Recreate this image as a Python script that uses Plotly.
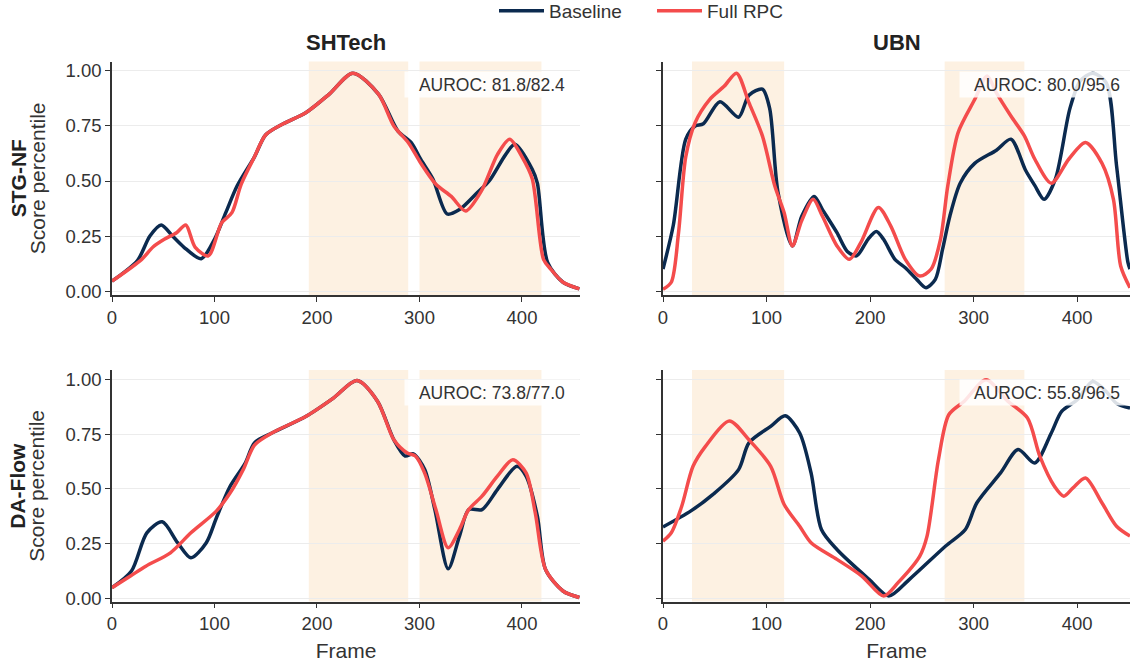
import plotly.graph_objects as go

# ---------------- data ----------------
sh_stg_base_x = [0, 25, 37, 48, 59, 70, 87, 100, 111, 122, 139, 150, 167, 189, 212, 235, 260, 279, 292, 301, 313, 327, 339, 357, 368, 384, 393, 410, 415, 425, 440, 456]
sh_stg_base_y = [0.045, 0.14, 0.25, 0.30, 0.25, 0.20, 0.147, 0.235, 0.356, 0.477, 0.61, 0.71, 0.76, 0.81, 0.895, 0.99, 0.895, 0.727, 0.675, 0.60, 0.51, 0.35, 0.37, 0.45, 0.50, 0.62, 0.667, 0.553, 0.49, 0.13, 0.04, 0.01]
sh_stg_rpc_x = [0, 29, 40, 51, 63, 72, 81, 94, 107, 117, 126, 139, 150, 167, 189, 212, 235, 260, 275, 289, 301, 316, 331, 345, 361, 376, 388, 400, 410, 421, 428, 440, 456]
sh_stg_rpc_y = [0.045, 0.144, 0.20, 0.235, 0.265, 0.30, 0.20, 0.16, 0.31, 0.356, 0.485, 0.61, 0.71, 0.76, 0.81, 0.895, 0.99, 0.895, 0.75, 0.675, 0.583, 0.485, 0.43, 0.364, 0.46, 0.62, 0.69, 0.61, 0.51, 0.144, 0.10, 0.04, 0.01]

ubn_stg_base_x = [0, 10, 22, 31, 39, 55, 73, 83, 96, 103, 111, 125, 134, 146, 154, 168, 178, 187, 198, 206, 213, 224, 234, 245, 254, 263, 270, 277, 287, 301, 322, 336, 350, 359, 368, 379, 393, 403, 415, 428, 438, 449, 451]
ubn_stg_base_y = [0.10, 0.30, 0.69, 0.75, 0.76, 0.86, 0.79, 0.89, 0.917, 0.83, 0.45, 0.205, 0.34, 0.43, 0.37, 0.265, 0.18, 0.16, 0.235, 0.27, 0.235, 0.144, 0.106, 0.053, 0.015, 0.053, 0.19, 0.34, 0.49, 0.58, 0.64, 0.69, 0.55, 0.48, 0.417, 0.51, 0.83, 0.955, 0.99, 0.947, 0.57, 0.13, 0.10]
ubn_stg_rpc_x = [0, 8, 15, 22, 31, 45, 59, 71, 83, 96, 108, 117, 125, 134, 145, 154, 168, 180, 191, 208, 220, 234, 248, 259, 268, 275, 285, 301, 313, 322, 336, 349, 359, 375, 392, 408, 424, 435, 442, 451]
ubn_stg_rpc_y = [0.008, 0.04, 0.265, 0.61, 0.765, 0.87, 0.93, 0.99, 0.856, 0.705, 0.477, 0.356, 0.205, 0.32, 0.417, 0.34, 0.205, 0.144, 0.22, 0.38, 0.295, 0.144, 0.068, 0.10, 0.235, 0.477, 0.72, 0.87, 0.977, 0.90, 0.795, 0.705, 0.60, 0.49, 0.60, 0.675, 0.58, 0.417, 0.114, 0.015]

sh_da_base_x = [0, 19, 34, 49, 64, 77, 92, 102, 115, 130, 139, 156, 189, 216, 239, 259, 275, 286, 294, 305, 315, 328, 339, 348, 361, 376, 395, 404, 415, 423, 440, 456]
sh_da_base_y = [0.05, 0.126, 0.30, 0.35, 0.255, 0.186, 0.255, 0.37, 0.51, 0.618, 0.71, 0.755, 0.83, 0.914, 0.994, 0.90, 0.724, 0.65, 0.66, 0.59, 0.406, 0.136, 0.285, 0.406, 0.406, 0.497, 0.603, 0.558, 0.376, 0.133, 0.035, 0.005]
sh_da_rpc_x = [0, 18, 33, 57, 77, 102, 115, 128, 139, 156, 189, 216, 239, 259, 275, 288, 296, 305, 316, 328, 339, 348, 361, 376, 391, 404, 413, 423, 440, 456]
sh_da_rpc_y = [0.05, 0.103, 0.148, 0.209, 0.30, 0.40, 0.48, 0.588, 0.70, 0.755, 0.83, 0.914, 0.994, 0.90, 0.724, 0.664, 0.65, 0.573, 0.406, 0.232, 0.315, 0.406, 0.467, 0.558, 0.633, 0.573, 0.39, 0.133, 0.035, 0.005]

ubn_da_base_x = [0, 27, 48, 73, 83, 104, 118, 132, 143, 153, 168, 199, 218, 238, 273, 292, 303, 326, 343, 359, 375, 385, 400, 415, 428, 438, 451]
ubn_da_base_y = [0.327, 0.40, 0.474, 0.588, 0.71, 0.785, 0.833, 0.755, 0.573, 0.315, 0.224, 0.088, 0.012, 0.088, 0.24, 0.315, 0.436, 0.573, 0.68, 0.618, 0.755, 0.853, 0.906, 0.99, 0.944, 0.89, 0.868]
ubn_da_rpc_x = [0, 8, 18, 29, 41, 64, 83, 104, 117, 132, 143, 168, 192, 213, 227, 248, 255, 266, 276, 291, 312, 333, 352, 364, 378, 387, 396, 408, 424, 438, 451]
ubn_da_rpc_y = [0.262, 0.30, 0.42, 0.603, 0.694, 0.81, 0.724, 0.603, 0.429, 0.33, 0.255, 0.179, 0.103, 0.012, 0.073, 0.194, 0.285, 0.633, 0.838, 0.90, 0.997, 0.90, 0.823, 0.648, 0.512, 0.467, 0.505, 0.55, 0.436, 0.33, 0.285]

datasets = ["SHTech", "UBN"]
methods = ["STG-NF", "DA-Flow"]
series_names = ["Baseline", "Full RPC"]
auroc_labels = ["AUROC: 81.8/82.4", "AUROC: 80.0/95.6", "AUROC: 73.8/77.0", "AUROC: 55.8/96.5"]
sh_regions = [[192, 289], [300, 419]]
ubn_regions = [[28, 117], [272, 349]]
x_max = {"SHTech": 456.6, "UBN": 451}

panels = [
    (sh_stg_base_x, sh_stg_base_y, sh_stg_rpc_x, sh_stg_rpc_y),
    (ubn_stg_base_x, ubn_stg_base_y, ubn_stg_rpc_x, ubn_stg_rpc_y),
    (sh_da_base_x, sh_da_base_y, sh_da_rpc_x, sh_da_rpc_y),
    (ubn_da_base_x, ubn_da_base_y, ubn_da_rpc_x, ubn_da_rpc_y),
]

# ---------------- styling ----------------
W, H = 1130, 663
NAVY = "#0b2a4f"
RED = "#f44c4c"
SHADE = "#fdf1e2"
TXT = "#333333"
FONT = "Liberation Sans, Arial, sans-serif"
TICK = 18.5

def px_x(p):
    return p / W

def px_y(p):
    return 1 - p / H

col_dom = [[px_x(112), px_x(580)], [px_x(663), px_x(1130)]]
row_dom = [[px_y(295), px_y(61.5)], [px_y(601.5), px_y(370)]]
row_rng = [[-0.018, 1.043], [-0.013, 1.042]]

fig = go.Figure()
layout = dict(
    width=W, height=H,
    margin=dict(l=0, r=0, t=0, b=0, autoexpand=False),
    paper_bgcolor="white", plot_bgcolor="white",
    font=dict(family=FONT, color=TXT, size=16),
    showlegend=True,
    legend=dict(orientation="h", x=px_x(494), xanchor="left", y=px_y(11), yanchor="middle",
                font=dict(size=19, color=TXT), itemwidth=45, entrywidth=98,
                bgcolor="rgba(0,0,0,0)"),
)

shapes = []
annotations = []
for i, (bx, by, rx, ry) in enumerate(panels):
    r, c = divmod(i, 2)
    n = i + 1
    xa = "x" if n == 1 else f"x{n}"
    ya = "y" if n == 1 else f"y{n}"
    ds = datasets[c]
    fig.add_trace(go.Scatter(x=bx, y=by, mode="lines", name=series_names[0],
                             line=dict(color=NAVY, width=3.5, shape="spline", smoothing=0.8),
                             xaxis=xa, yaxis=ya, showlegend=(i == 0), hoverinfo="skip"))
    fig.add_trace(go.Scatter(x=rx, y=ry, mode="lines", name=series_names[1],
                             line=dict(color=RED, width=3.5, shape="spline", smoothing=0.8),
                             xaxis=xa, yaxis=ya, showlegend=(i == 0), hoverinfo="skip"))
    xkey = "xaxis" if n == 1 else f"xaxis{n}"
    ykey = "yaxis" if n == 1 else f"yaxis{n}"
    layout[xkey] = dict(
        domain=col_dom[c], anchor=ya, range=[0, x_max[ds]],
        tickvals=[0, 100, 200, 300, 400], showgrid=False, zeroline=False,
        showline=True, linecolor=TXT, linewidth=1.5, ticks="outside", ticklen=5,
        tickcolor=TXT, tickfont=dict(size=TICK, color=TXT),
        title=dict(text="Frame", font=dict(size=21, color=TXT), standoff=10) if r == 1 else None,
    )
    layout[ykey] = dict(
        domain=row_dom[r], anchor=xa, range=row_rng[r],
        tickvals=[0, 0.25, 0.5, 0.75, 1.0], tickformat=".2f",
        showticklabels=(c == 0), showgrid=True, gridcolor="#ececec", gridwidth=1,
        zeroline=False, showline=True, linecolor=TXT, linewidth=1.5,
        ticks="outside", ticklen=5, tickcolor=TXT, tickfont=dict(size=TICK, color=TXT),
    )
    regions = sh_regions if ds == "SHTech" else ubn_regions
    for x0, x1 in regions:
        shapes.append(dict(type="rect", xref=xa, yref=f"{ya} domain", x0=x0, x1=x1, y0=0, y1=1,
                           fillcolor=SHADE, line=dict(width=0), layer="below"))
    annotations.append(dict(text=auroc_labels[i], xref=xa, yref=ya, x=370.5, y=0.94,
                            showarrow=False, width=172, height=23, align="center",
                            bgcolor="rgba(255,255,255,0.85)", borderpad=1,
                            font=dict(size=17.5, color=TXT)))

for c, ds in enumerate(datasets):
    annotations.append(dict(text=f"<b>{ds}</b>", xref="paper", yref="paper",
                            x=sum(col_dom[c]) / 2, y=px_y(42), showarrow=False,
                            xanchor="center", yanchor="middle", font=dict(size=22, color="#222222")))
for r, m in enumerate(methods):
    yc = sum(row_dom[r]) / 2
    annotations.append(dict(text=f"<b>{m}</b>", xref="paper", yref="paper", x=px_x(18), y=yc,
                            showarrow=False, textangle=-90, xanchor="center", yanchor="middle",
                            font=dict(size=21, color="#222222")))
    annotations.append(dict(text="Score percentile", xref="paper", yref="paper", x=px_x(37), y=yc,
                            showarrow=False, textangle=-90, xanchor="center", yanchor="middle",
                            font=dict(size=21, color=TXT)))

layout["shapes"] = shapes
layout["annotations"] = annotations
fig.update_layout(**layout)
fig.write_html("out.html")
